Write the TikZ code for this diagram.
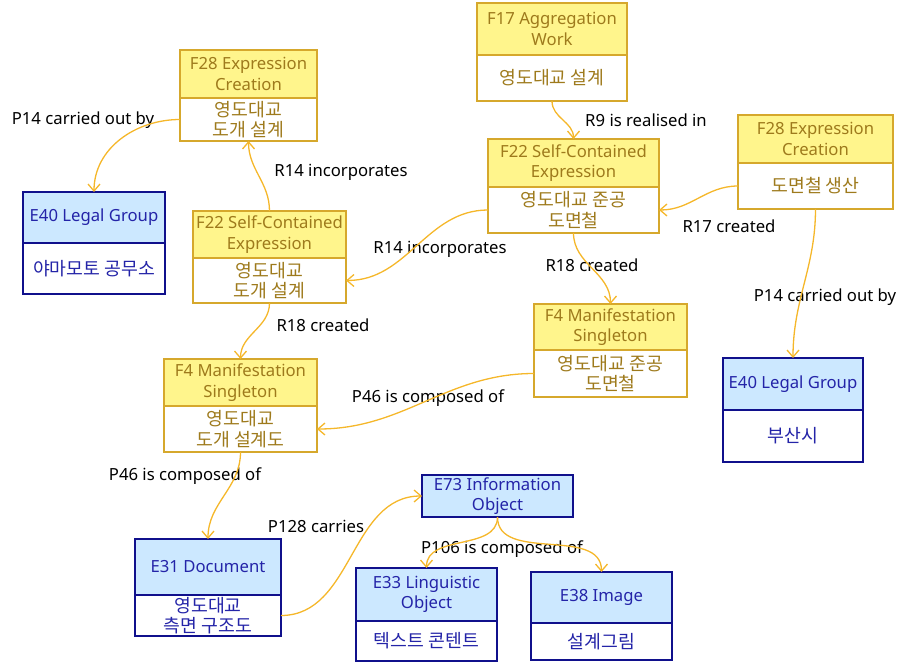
\documentclass[tikz,border=0pt]{standalone}
\usepackage{fontspec}
\setmainfont{Noto Sans}
\newfontfamily\hangul{Noto Sans CJK KR}
\usetikzlibrary{positioning,arrows.meta}
\definecolor{frbrfill}{HTML}{FFF58C}
\definecolor{frbrline}{HTML}{D6A82C}
\definecolor{frbrtext}{HTML}{9E7A1C}
\definecolor{crmfill}{HTML}{CCE8FF}
\definecolor{crmline}{HTML}{10108C}
\definecolor{crmtext}{HTML}{2424A8}
\definecolor{linkcol}{HTML}{F5B72A}

\tikzset{
  box/.style={line width=1.2pt, align=center, inner sep=1pt, outer sep=0pt,
              font=\fontsize{16.7}{20.5}\selectfont},
  frbr head/.style={box, draw=frbrline, fill=frbrfill, text=frbrtext},
  frbr body/.style={box, draw=frbrline, fill=white, text=frbrtext,
                    font=\hangul\fontsize{18.3}{20.5}\selectfont},
  crm head/.style={box, draw=crmline, fill=crmfill, text=crmtext},
  crm body/.style={box, draw=crmline, fill=white, text=crmtext,
                   font=\hangul\fontsize{18.3}{20.5}\selectfont},
  link/.style={draw=linkcol, line width=1.3pt,
               -{Straight Barb[length=7pt,width=12pt]}},
  rel/.style={text=black, inner sep=0pt, font=\fontsize{16.7}{20}\selectfont}
}

\begin{document}
\begin{tikzpicture}[x=1pt, y=-1pt]
  \useasboundingbox (0,0) rectangle (903,669);

  % FRBRoo classes
  \node[frbr head, minimum width=137pt, minimum height=48pt] (f28a) at (248.5,74) {F28 Expression\\Creation};
  \node[frbr body, minimum width=137pt, minimum height=43pt, below=0pt of f28a] (f28a-b) {영도대교\\도개 설계};

  \node[frbr head, minimum width=150pt, minimum height=52pt] (f17) at (552,29) {F17 Aggregation\\Work};
  \node[frbr body, minimum width=150pt, minimum height=46pt, below=0pt of f17] (f17-b) {영도대교 설계};

  \node[frbr head, minimum width=171pt, minimum height=48pt] (f22b) at (573.5,163) {F22 Self-Contained\\Expression};
  \node[frbr body, minimum width=171pt, minimum height=46pt, below=0pt of f22b] (f22b-b) {영도대교 준공\\도면철};

  \node[frbr head, minimum width=155pt, minimum height=48pt] (f28b) at (815.5,139) {F28 Expression\\Creation};
  \node[frbr body, minimum width=155pt, minimum height=46pt, below=0pt of f28b] (f28b-b) {도면철 생산};

  \node[frbr head, minimum width=153pt, minimum height=47pt] (f22a) at (269.5,234.5) {F22 Self-Contained\\Expression};
  \node[frbr body, minimum width=153pt, minimum height=45pt, below=0pt of f22a] (f22a-b) {영도대교\\도개 설계};

  \node[frbr head, minimum width=153pt, minimum height=47pt] (f4a) at (240.5,382.5) {F4 Manifestation\\Singleton};
  \node[frbr body, minimum width=153pt, minimum height=46pt, below=0pt of f4a] (f4a-b) {영도대교\\도개 설계도};

  \node[frbr head, minimum width=153pt, minimum height=46pt] (f4b) at (610.5,327) {F4 Manifestation\\Singleton};
  \node[frbr body, minimum width=153pt, minimum height=47pt, below=0pt of f4b] (f4b-b) {영도대교 준공\\도면철};

  % CIDOC CRM classes
  \node[crm head, minimum width=142pt, minimum height=51pt] (e40a) at (94,217.5) {E40 Legal Group};
  \node[crm body, minimum width=142pt, minimum height=51pt, below=0pt of e40a] (e40a-b) {야마모토 공무소};

  \node[crm head, minimum width=140pt, minimum height=52pt] (e40b) at (793,384) {E40 Legal Group};
  \node[crm body, minimum width=140pt, minimum height=52pt, below=0pt of e40b] (e40b-b) {부산시};

  \node[crm head, minimum width=151pt, minimum height=42pt] (e73) at (497.5,496) {E73 Information\\Object};

  \node[crm head, minimum width=146pt, minimum height=56pt] (e31) at (208,567) {E31 Document};
  \node[crm body, minimum width=146pt, minimum height=41pt, below=0pt of e31] (e31-b) {영도대교\\측면 구조도};

  \node[crm head, minimum width=141pt, minimum height=53pt] (e33) at (426.5,594.5) {E33 Linguistic\\Object};
  \node[crm body, minimum width=141pt, minimum height=40pt, below=0pt of e33] (e33-b) {텍스트 콘텐트};

  \node[crm head, minimum width=141pt, minimum height=51pt] (e38) at (601.5,597.5) {E38 Image};
  \node[crm body, minimum width=141pt, minimum height=37pt, below=0pt of e38] (e38-b) {설계그림};

  % property labels
  \node[rel] (p14a) at (83,120) {P14 carried out by};
  \node[rel] (r14a) at (341,172) {R14 incorporates};
  \node[rel] (r9) at (646,120) {R9 is realised in};
  \node[rel] (r14b) at (440,249) {R14 incorporates};
  \node[rel] (r17) at (729,226) {R17 created};
  \node[rel] (r18b) at (592,265) {R18 created};
  \node[rel] (p14b) at (825,297) {P14 carried out by};
  \node[rel] (r18a) at (323,325) {R18 created};
  \node[rel] (p46a) at (428,398) {P46 is composed of};
  \node[rel] (p46b) at (185,476) {P46 is composed of};
  \node[rel] (p128) at (316,526) {P128 carries};
  \node[rel] (p106) at (502,549) {P106 is composed of};

  % properties
  \draw[link] (f28a-b.west) to[out=180, in=90] (e40a.north);
  \draw[link] (f22a.north) to[out=90, in=-90] (f28a-b.south);
  \draw[link] (f17-b.south) to[out=-90, in=90] (f22b.north);
  \draw[link] (f22b-b.west) to[out=180, in=0] (f22a-b.east);
  \draw[link] (f28b-b.west) to[out=180, in=0] (f22b-b.east);
  \draw[link] (f22b-b.south) to[out=-90, in=90] (f4b.north);
  \draw[link] (f28b-b.south) to[out=-90, in=90] (e40b.north);
  \draw[link] (f22a-b.south) to[out=-90, in=90] (f4a.north);
  \draw[link] (f4b-b.west) to[out=180, in=0] (f4a-b.east);
  \draw[link] (f4a-b.south) to[out=-90, in=90] (e31.north);
  \draw[link] (e31-b.east) to[out=0, in=180] (e73.west);
  \draw[link] (e73.south) to[out=-90, in=90] (e33.north);
  \draw[link] (e73.south) to[out=-90, in=90] (e38.north);
\end{tikzpicture}
\end{document}
